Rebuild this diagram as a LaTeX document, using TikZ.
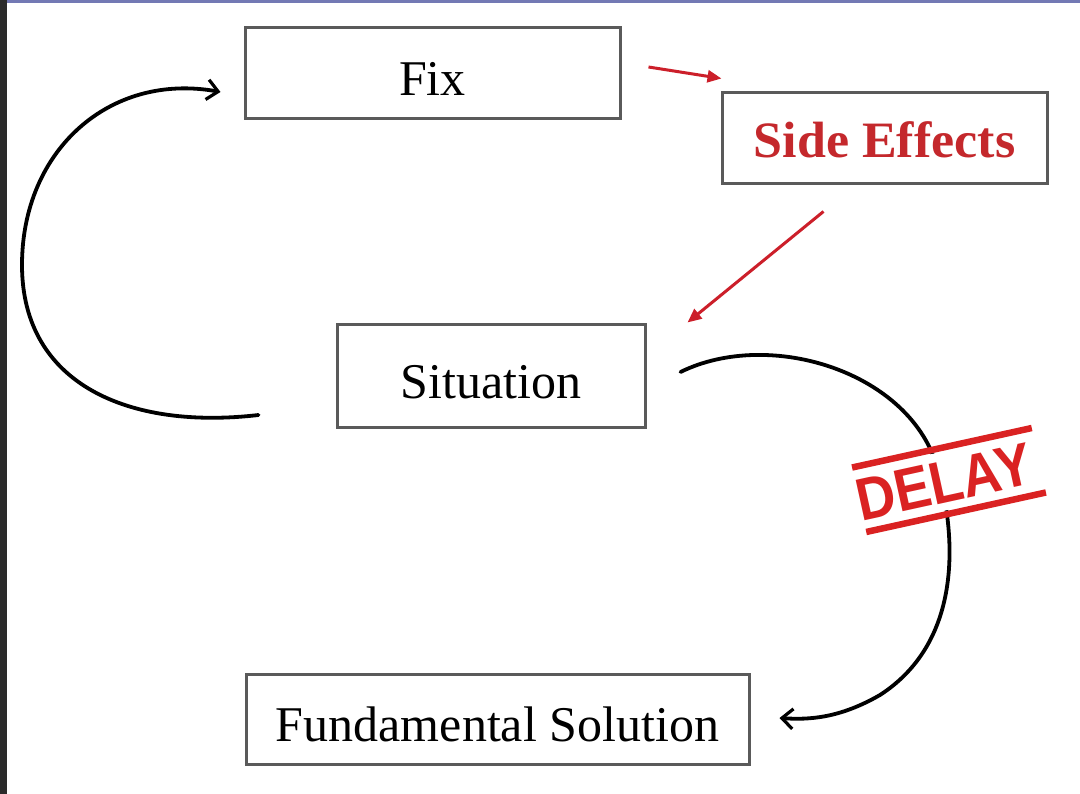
\documentclass[tikz,border=0pt]{standalone}
\usepackage{fontspec}
\setmainfont{Liberation Serif}
\newfontfamily\stampfont{Liberation Sans}
\usetikzlibrary{arrows.meta,calc}

\definecolor{boxgray}{HTML}{5A5A5A}
\definecolor{effectred}{HTML}{C4282C}
\definecolor{arrowred}{HTML}{CC1F2A}
\definecolor{stampred}{HTML}{DA2222}
\definecolor{topband}{HTML}{7379B4}
\definecolor{sideband}{HTML}{2B2B2B}

\tikzset{
  stagebox/.style={draw=boxgray, line width=3pt, rectangle, inner sep=0pt,
    text height=44pt, text depth=0pt,
    font=\fontsize{50}{60}\selectfont},
  loop/.style={line width=3.8pt, line cap=round,
    -{Straight Barb[length=11pt,width=20pt,line width=3.2pt]}},
  redarrow/.style={draw=arrowred, line width=3pt,
    -{Triangle[length=14pt,width=12pt]}},
}

\begin{document}
\begin{tikzpicture}[x=1pt,y=-1pt]
  \useasboundingbox (0,0) rectangle (1080,794);
  \fill[white] (0,0) rectangle (1080,794);
  % frame edges
  \fill[sideband] (0,0) rectangle (7,794);
  \fill[topband] (7,0) rectangle (1080,3.5);

  % stages
  \node[stagebox, minimum width=375pt, minimum height=91pt] (fix) at (432.5,73.5) {Fix};
  \node[stagebox, minimum width=325pt, minimum height=91pt, text=effectred,
        text height=39pt, font=\fontsize{51}{60}\selectfont\bfseries] (side) at (884.5,138.5)
        {\scalebox{1.02}[1]{Side Effects}};
  \node[stagebox, minimum width=308pt, minimum height=103pt] (sit) at (491,376.5) {Situation};
  \node[stagebox, minimum width=503pt, minimum height=90pt] (fund) at (497.5,719) {Fundamental Solution};

  % free ends of the connectors
  \coordinate (fixout)  at ($(fix.east)+(27,-6.5)$);
  \coordinate (sidein)  at ($(side.north west)+(1,-13)$);
  \coordinate (sideout) at ($(side.south west)+(103,26)$);
  \coordinate (sitin)   at ($(sit.north east)+(41,-1)$);
  \coordinate (sitleft) at ($(sit.west)+(-77,38.5)$);
  \coordinate (fixin)   at ($(fix.west)+(-23,18.5)$);
  \coordinate (sitright) at ($(sit.east)+(34,-4.5)$);
  \coordinate (fundin)  at ($(fund.east)+(29,-1)$);

  % fix -> side effects -> situation
  \draw[redarrow] (fixout) -- (sidein);
  \draw[redarrow] (sideout) -- (sitin);

  % balancing loop back to the fix
  \draw[loop] (sitleft) .. controls (130,430) and (22,385) .. (22,265)
                        .. controls (22,150) and (110,72) .. (fixin);

  % delayed path to the fundamental solution
  \draw[loop] (sitright) .. controls (770,328) and (912,372) .. (938,470)
                         .. controls (955,532) and (965,640) .. (880,695)
                         .. controls (840,718) and (810,720) .. (fundin);

  % delay stamp
  \begin{scope}[shift={(949,480)}, rotate=12.4]
    \fill[white] (-92,-29) rectangle (92,29);
    \draw[stampred, line width=6.5pt] (-92,-33) -- (92,-33);
    \draw[stampred, line width=6.5pt] (-92,33) -- (92,33);
  \end{scope}
  \node[rotate=12.4, text=stampred, inner sep=0pt,
        font=\stampfont\fontsize{60}{66}\selectfont\bfseries] (delay) at (944,482)
        {\scalebox{0.9}[1]{DELAY}};
\end{tikzpicture}
\end{document}
